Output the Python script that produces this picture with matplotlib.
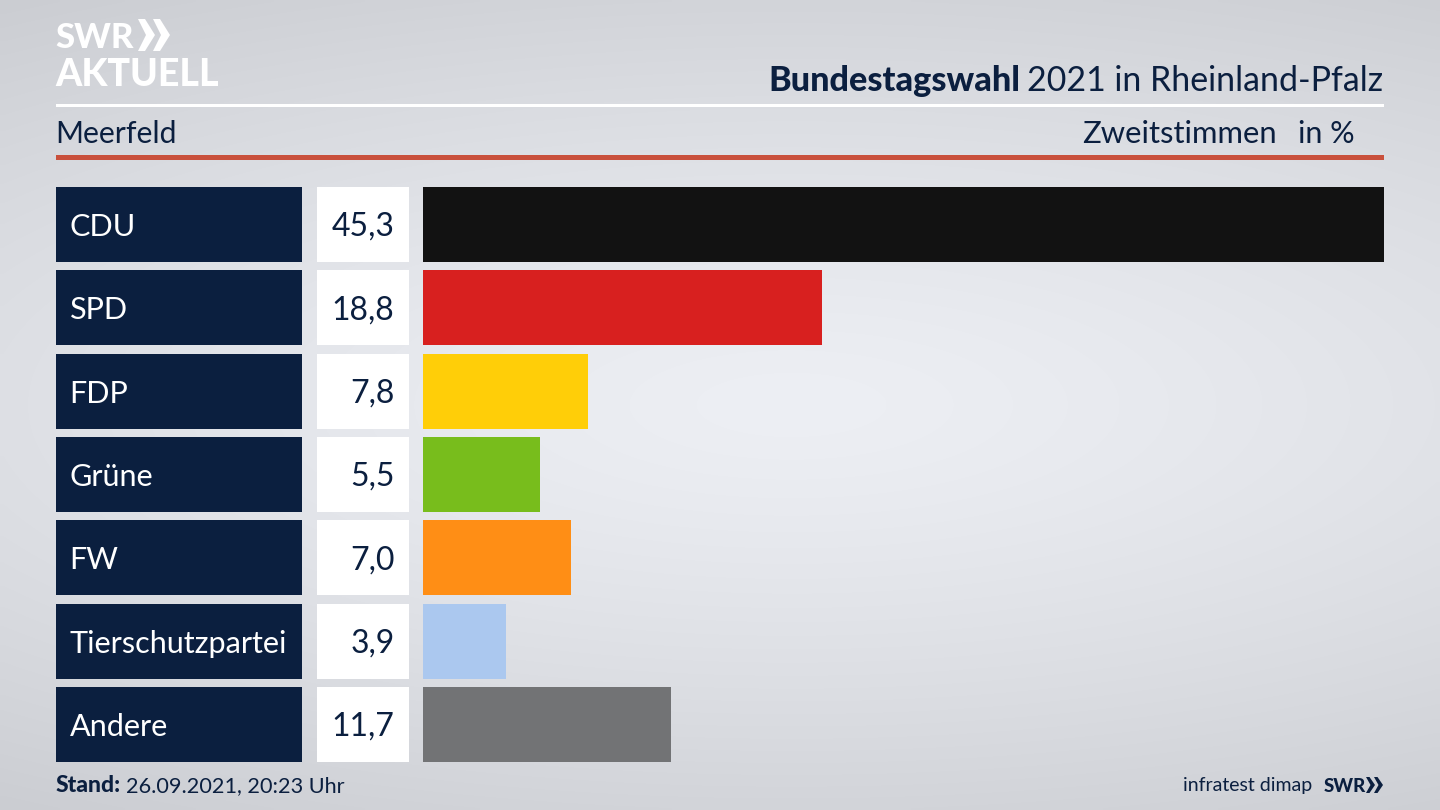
import numpy as np
import matplotlib
matplotlib.use("Agg")
import matplotlib.pyplot as plt
from matplotlib.patches import Rectangle, Polygon

parties = ["CDU", "SPD", "FDP", "Grüne", "FW", "Tierschutzpartei", "Andere"]
values = [45.3, 18.8, 7.8, 5.5, 7.0, 3.9, 11.7]
value_labels = ["45,3", "18,8", "7,8", "5,5", "7,0", "3,9", "11,7"]
colors = ["#121212", "#d8201f", "#ffce08", "#78bd1c", "#ff8e15", "#abc8ef", "#727375"]

navy = "#0b1f3f"
plt.rcParams["font.family"] = ["Lato", "DejaVu Sans"]

fig = plt.figure(figsize=(14.4, 8.1), dpi=100)

# page in pixel coordinates
bg = fig.add_axes([0, 0, 1, 1])
bg.set_xlim(0, 1440)
bg.set_ylim(810, 0)
bg.axis("off")

# background, light in the middle and darker to the edges
yy, xx = np.mgrid[0:1:200j, 0:1:200j]
dist = np.sqrt(((xx - 0.55) / 1.0) ** 2 + ((yy - 0.5) / 0.6) ** 2)
shade = 238 - 34 * np.clip(dist, 0, 1) ** 1.3
rgb = np.dstack([shade - 1, shade + 1, shade + 6]) / 255
bg.imshow(np.clip(rgb, 0, 1), extent=[0, 1440, 810, 0], aspect="auto", interpolation="bilinear")

# logo
bg.text(55, 38, "SWR", color="white", fontsize=25, fontweight="black", va="center", ha="left")
for x0 in [138, 153]:
    bg.add_patch(Polygon([(x0, 19), (x0 + 7, 19), (x0 + 17, 35), (x0 + 7, 51), (x0, 51), (x0 + 8, 35)],
                         closed=True, color="white", lw=0))
bg.text(55, 75, "AKTUELL", color="white", fontsize=27, fontweight="black", va="center", ha="left")

# header
bg.text(1383, 81, "2021 in Rheinland-Pfalz", color=navy, fontsize=24.4, va="center", ha="right")
bg.text(1020, 81, "Bundestagswahl", color=navy, fontsize=24.7, fontweight="black", va="center", ha="right")
bg.add_patch(Rectangle((56, 104), 1328, 3, color="white", lw=0))
bg.text(55, 134, "Meerfeld", color=navy, fontsize=21.8, va="center", ha="left")
bg.text(1277, 134, "Zweitstimmen", color=navy, fontsize=22.3, va="center", ha="right")
bg.text(1355, 134, "in %", color=navy, fontsize=22, va="center", ha="right")
bg.add_patch(Rectangle((56, 155), 1328, 5, color="#c9503c", lw=0))

# bars
ax = fig.add_axes([423 / 1440, 1 - 762 / 810, 961 / 1440, 575 / 810], zorder=2)
ax.patch.set_alpha(0)
rows = np.arange(len(parties))
ax.barh(rows, values, height=0.9, color=colors)
ax.set_xlim(0, 45.3)
ax.set_ylim(len(parties) - 0.55, -0.45)
ax.axis("off")

# label boxes left of the bars
for i, (party, label) in enumerate(zip(parties, value_labels)):
    top = 187 + i * 83.3
    bg.add_patch(Rectangle((56, top), 246, 75, color=navy, lw=0))
    bg.add_patch(Rectangle((317, top), 92, 75, color="white", lw=0))
    bg.text(69.5, top + 40, party, color="white", fontsize=22.1, va="center", ha="left")
    bg.text(394.5, top + 40, label, color=navy, fontsize=23, va="center", ha="right")

# footer
bg.text(56, 786, "Stand:", color=navy, fontsize=16.5, fontweight="black", va="center", ha="left")
bg.text(126, 786, "26.09.2021, 20:23 Uhr", color=navy, fontsize=15.6, va="center", ha="left")
bg.text(1312, 786, "infratest dimap", color=navy, fontsize=14, va="center", ha="right")
bg.text(1324, 786, "SWR", color=navy, fontsize=13.5, fontweight="black", va="center", ha="left")
for x0 in [1366, 1374]:
    bg.add_patch(Polygon([(x0, 777), (x0 + 3.5, 777), (x0 + 9, 785), (x0 + 3.5, 793), (x0, 793), (x0 + 4.5, 785)],
                         closed=True, color=navy, lw=0))

fig.savefig("out.png", dpi=100)
